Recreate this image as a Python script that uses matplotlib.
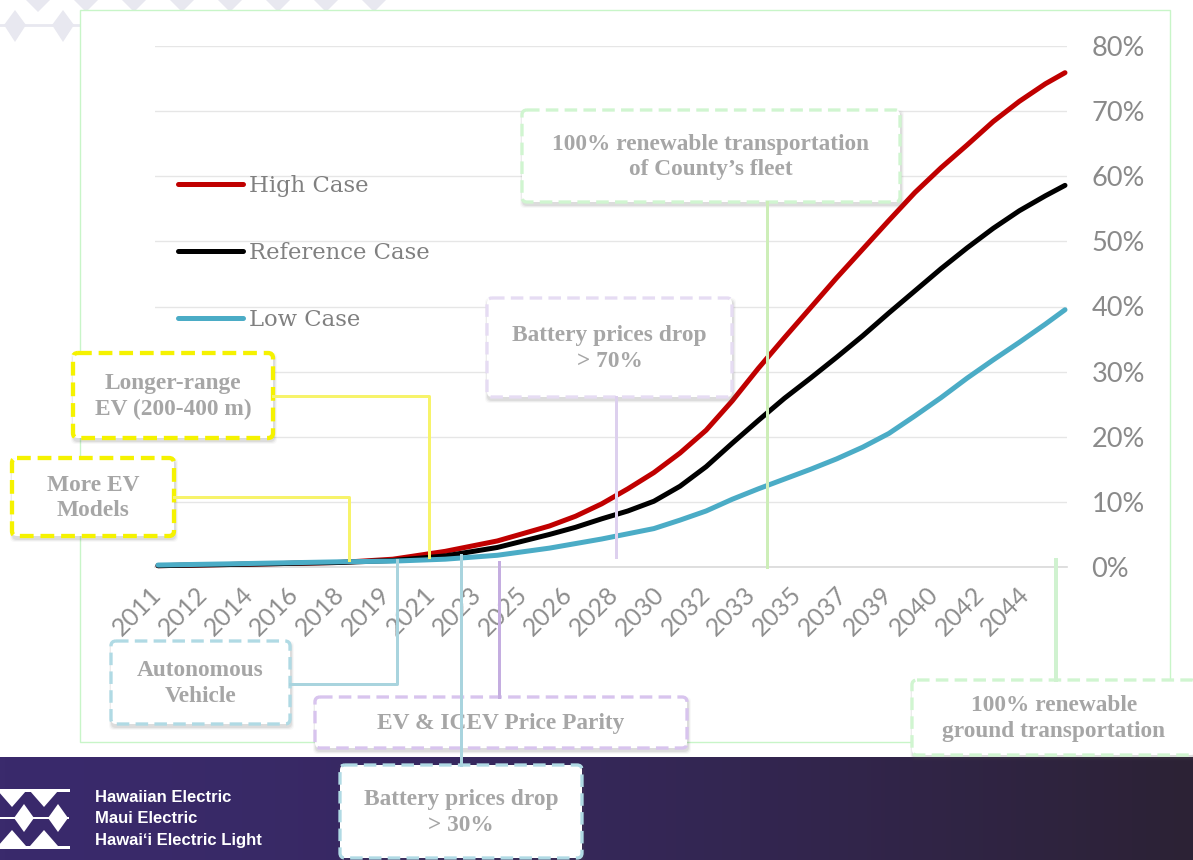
import numpy as np
import matplotlib.pyplot as plt
from matplotlib.patches import FancyBboxPatch, Polygon, Rectangle
from matplotlib.lines import Line2D
from matplotlib.transforms import Affine2D

W, H = 1193, 860

# EV share of vehicles (%)
years = [2011, 2014, 2018, 2020, 2022, 2024, 2026, 2027, 2028, 2029, 2030, 2031, 2032, 2033,
         2034, 2035, 2036, 2037, 2038, 2039, 2040, 2041, 2042, 2043, 2044, 2045, 2045.75]
high_case = [0.2, 0.4, 0.7, 1.2, 2.4, 4.0, 6.3, 7.8, 9.7, 12.0, 14.5, 17.5, 21.0, 25.5,
             30.5, 35.2, 39.8, 44.4, 48.8, 53.2, 57.5, 61.3, 64.8, 68.4, 71.5, 74.2, 75.9]
reference_case = [0.2, 0.4, 0.7, 1.0, 1.7, 3.0, 5.0, 6.1, 7.4, 8.6, 10.1, 12.4, 15.4, 19.0,
                  22.5, 25.9, 29.0, 32.2, 35.5, 39.0, 42.4, 45.8, 49.0, 52.0, 54.7, 57.0, 58.6]
low_case = [0.3, 0.5, 0.8, 0.9, 1.2, 1.8, 2.9, 3.6, 4.3, 5.1, 5.9, 7.2, 8.6, 10.4,
            12.0, 13.5, 15.0, 16.6, 18.4, 20.5, 23.2, 26.0, 29.0, 31.8, 34.5, 37.3, 39.5]

tick_labels = ["2011", "2012", "2014", "2016", "2018", "2019", "2021", "2023", "2025", "2026",
               "2028", "2030", "2032", "2033", "2035", "2037", "2039", "2040", "2042", "2044"]
y_ticks = [0, 10, 20, 30, 40, 50, 60, 70, 80]

# milestone years on the axis
milestones = {
    "more_ev": 2018.3,
    "longer_range": 2021.4,
    "autonomous": 2020.15,
    "battery30": 2022.6,
    "parity": 2024.05,
    "battery70": 2028.55,
    "county": 2034.35,
    "ground": 2045.4,
}

fig = plt.figure(figsize=(W / 100, H / 100), dpi=100)
fig.patch.set_facecolor("white")

# pixel transform (origin top-left)
pix = Affine2D().scale(1 / W, -1 / H).translate(0, 1) + fig.transFigure

# bottom banner
bax = fig.add_axes([0, 0, 1, 103 / H], zorder=-2)
grad = np.linspace(0, 1, 256)
c0 = np.array([0x3a, 0x2a, 0x6c]) / 255
c1 = np.array([0x2c, 0x22, 0x35]) / 255
img = (c0[None, :] * (1 - grad[:, None] ** 1.5) + c1[None, :] * grad[:, None] ** 1.5)[None, :, :]
bax.imshow(img, aspect="auto", extent=(0, 1, 0, 1))
bax.set_axis_off()

# decorative diamonds top-left
dia_c = "#e8e8f0"
for cx in np.arange(38, 420, 48):
    fig.patches.append(Polygon([(cx - 12, 0), (cx + 12, 0), (cx, 12)], closed=True,
                               transform=pix, fc=dia_c, ec="none", zorder=-1))
for cx in [15, 63]:
    fig.patches.append(Polygon([(cx - 11, 25), (cx, 10), (cx + 11, 25), (cx, 42)], closed=True,
                               transform=pix, fc=dia_c, ec="none", zorder=-1))
fig.add_artist(Line2D([0, 80], [25, 25], transform=pix, color=dia_c, lw=2, zorder=-1))

# green frame
fig.patches.append(Rectangle((80, 10), 1090, 732, transform=pix, fc="white",
                             ec="#c8f5c8", lw=1, zorder=-1))

# main chart
ax = fig.add_axes([155 / W, 1 - 567 / H, (1067 - 155) / W, (567 - 46) / H])
ax.patch.set_visible(False)
ax.set_xlim(2010.885, 2045.827)
ax.set_ylim(0, 80)

ax.plot(years, high_case, color="#c00000", lw=3.6, label="High Case",
        solid_capstyle="round", solid_joinstyle="round", clip_on=False, zorder=4)
ax.plot(years, reference_case, color="#000000", lw=3.6, label="Reference Case",
        solid_capstyle="round", solid_joinstyle="round", clip_on=False, zorder=4)
ax.plot(years, low_case, color="#4bacc6", lw=3.6, label="Low Case",
        solid_capstyle="round", solid_joinstyle="round", clip_on=False, zorder=4)

ax.set_yticks(y_ticks)
ax.set_yticklabels([f"{v}%" for v in y_ticks])
ax.yaxis.tick_right()
ax.yaxis.grid(True, color="#e6e6e6", lw=1)
ax.set_axisbelow(True)
ax.tick_params(axis="y", length=0, pad=17.5, labelsize=19.5, labelcolor="#8a8a8a")
for t in ax.get_yticklabels():
    t.set_family("Lato")

tick_pos = 2011 + 1.75 * np.arange(len(tick_labels))
ax.set_xticks(tick_pos)
ax.set_xticklabels(tick_labels, rotation=45, ha="right", va="center",
                   rotation_mode="anchor", family="Lato", fontsize=18, color="#8e8e8e")
ax.tick_params(axis="x", length=0, pad=17)

for s in ["top", "left", "right"]:
    ax.spines[s].set_visible(False)
ax.spines["bottom"].set_color("#d9d9d9")
ax.spines["bottom"].set_linewidth(1.2)

leg = ax.legend(loc="upper left", bbox_to_anchor=(178 / W, 1 - 175 / H),
                bbox_transform=fig.transFigure, frameon=False, borderpad=0,
                borderaxespad=0, handlelength=2.85, handletextpad=0.25,
                labelspacing=1.97, prop={"family": "DejaVu Serif", "size": 16.4},
                labelcolor="#808080")


def ev_px(key):
    return ax.transData.transform((milestones[key], 0))[0]


def box(x0, y0, x1, y1, color, text, lw=3.3, dash=(3.8, 1.9)):
    for i, a in enumerate([0.10, 0.07, 0.04]):
        fig.patches.append(FancyBboxPatch((x0 + 1, y0 + 3), x1 - x0, y1 - y0,
                                          boxstyle=f"round,pad={i + 1},rounding_size=5",
                                          transform=pix, fc="#555555", ec="none",
                                          alpha=a, zorder=5))
    fig.patches.append(FancyBboxPatch((x0, y0), x1 - x0, y1 - y0,
                                      boxstyle="round,pad=0,rounding_size=5",
                                      transform=pix, fc="white", ec=color,
                                      lw=lw * 0.72, linestyle=(0, dash), zorder=6))
    fig.text((x0 + x1) / 2, (y0 + y1) / 2 + 1, text, transform=pix, ha="center",
             va="center", family="Liberation Serif", fontweight="bold", fontsize=16.8,
             color="#a6a6a6", linespacing=1.3, zorder=7)


def connector(xs, ys, color, lw=3.0):
    fig.add_artist(Line2D(xs, ys, transform=pix, color=color, lw=lw * 0.72, zorder=8))


yellow = "#f5f200"
blue = "#b0dae4"
lav = "#d8c4ee"
lav2 = "#e6dcf3"
green = "#d0f5d0"

box(12, 458, 174, 536, yellow, "More EV\nModels", lw=4.3, dash=(3.2, 1.6))
box(73, 353, 273, 438, yellow, "Longer-range\nEV (200-400 m)", lw=4.3, dash=(3.2, 1.6))
box(111, 641, 290, 724, blue, "Autonomous\nVehicle")
box(315, 697, 687, 748, lav, "EV & ICEV Price Parity")
box(340, 765, 582, 858, blue, "Battery prices drop\n> 30%")
box(487, 298, 732, 397, lav2, "Battery prices drop\n> 70%")
box(522, 110, 900, 202, green, "100% renewable transportation\nof County\u2019s fleet")
box(912, 680, 1196, 755, green, "100% renewable\nground transportation")

x = ev_px("more_ev")
connector([174, x, x], [497, 497, 560], "#f7f36a")
x = ev_px("longer_range")
connector([273, x, x], [396, 396, 557], "#f7f36a")
x = ev_px("autonomous")
connector([x, x, 290], [560, 684, 684], "#a9d4de")
x = ev_px("battery30")
connector([x, x], [555, 765], "#a9d4de")
x = ev_px("parity")
connector([x, x], [562, 697], "#c4ade0")
x = ev_px("battery70")
connector([x, x], [397, 557], "#ddd0ee")
x = ev_px("county")
connector([x, x], [202, 567], "#cdeeb8")
x = ev_px("ground")
connector([x, x], [560, 680], "#d0f2d0", lw=4)

# logo
wc = "white"
connector([0, 68], [790, 790], wc, lw=3)
connector([0, 68], [847, 847], wc, lw=3)
connector([0, 68], [818, 818], wc, lw=2)
for cx in [12, 44]:
    fig.patches.append(Polygon([(cx - 14, 791), (cx + 14, 791), (cx, 807)], closed=True,
                               transform=pix, fc=wc, ec="none", zorder=5))
    fig.patches.append(Polygon([(cx - 14, 846), (cx + 14, 846), (cx, 830)], closed=True,
                               transform=pix, fc=wc, ec="none", zorder=5))
for cx in [24, 58]:
    fig.patches.append(Polygon([(cx - 10, 818), (cx, 804), (cx + 10, 818), (cx, 832)],
                               closed=True, transform=pix, fc=wc, ec="none", zorder=5))
for i, name in enumerate(["Hawaiian Electric", "Maui Electric", "Hawai\u02bbi Electric Light"]):
    fig.text(95, 797 + 21.5 * i, name, transform=pix, ha="left", va="center",
             family="Liberation Sans", fontweight="bold", fontsize=12,
             color="white", zorder=7)

fig.savefig("out.png", dpi=100)
